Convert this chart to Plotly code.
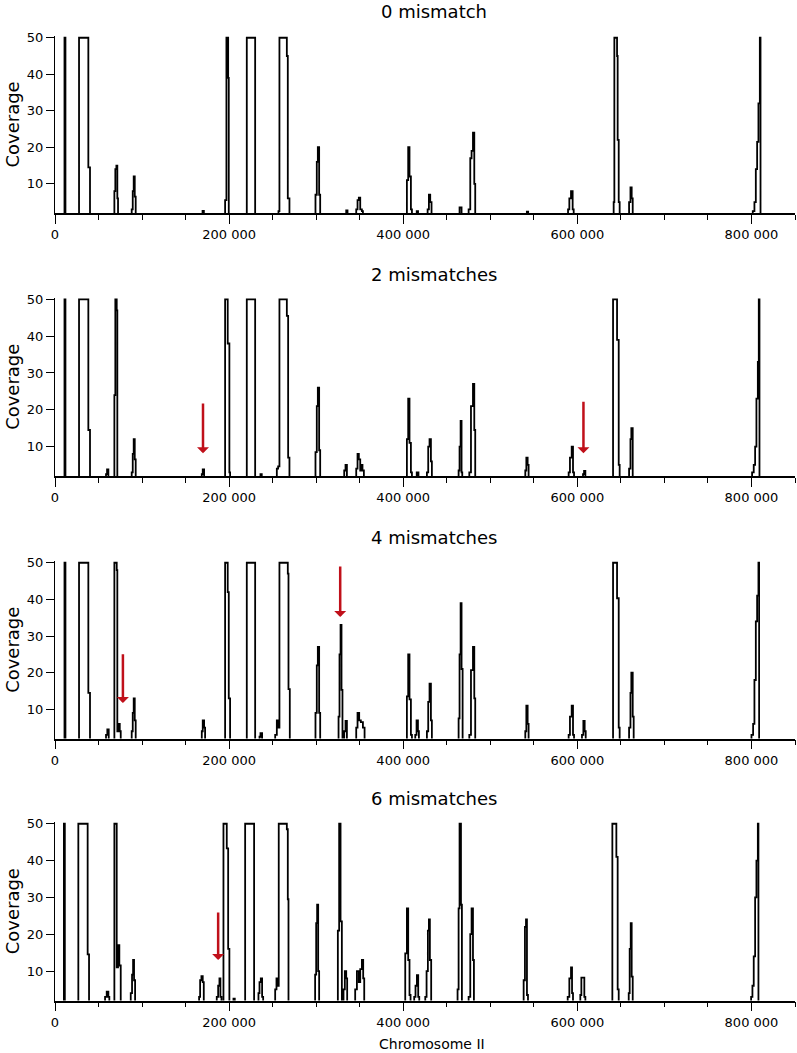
import plotly.graph_objects as go

# ---------------- data (position in bp, coverage) ----------------
panel_titles = ["0 mismatch", "2 mismatches", "4 mismatches", "6 mismatches"]

pos0 = [10900, 12000,
        27600, 38300, 40200,
        68200, 69300, 70500, 71600, 72400,
        88100, 89300, 90400, 91600, 92700,
        169500, 171000,
        195400, 196900, 198900, 199600,
        220300, 229900,
        256700, 257800, 266300, 267400, 269300,
        299200, 300700, 301900, 303400, 304600,
        334500, 336000,
        346000, 347500, 349000, 350600, 352500, 353700,
        404200, 405700, 407200, 408800, 410000,
        415500, 417000,
        428000, 429500, 431000, 432500,
        464700, 467000,
        475100, 477000, 478500, 480100, 481600, 482700,
        542000, 543500,
        589300, 590800, 592700, 594600, 595800,
        641700, 642500, 645600, 646300, 647500, 648600,
        659400, 661000, 662400, 663600,
        801500, 803400, 805000, 806500, 808000, 809600, 810400]
cov0 = [50, 0,
        50, 14.5, 0,
        8, 14, 15, 6, 0,
        3, 8, 12, 6.5, 0,
        2.6, 0,
        5.5, 50, 39, 0,
        50, 0,
        2.5, 50, 45, 6, 0,
        7, 16, 20, 7, 0,
        2.7, 0,
        3, 5.5, 6.2, 3, 2.5, 0,
        11, 20, 12, 3, 0,
        2.5, 0,
        3, 7, 5, 0,
        3.5, 0,
        3, 17, 19, 24, 10, 0,
        2.4, 0,
        3, 6, 8, 3, 0,
        5, 50, 45, 22, 5, 0,
        5, 9, 6, 0,
        2.5, 5, 14, 21.5, 32, 50, 0]

pos2 = [10900, 12000,
        27600, 38300, 40200,
        58600, 59800, 61300,
        68200, 69300, 70900, 71600,
        88100, 89300, 90400, 91600, 92700,
        168600, 169700, 171300,
        195400, 198400, 200300, 201100,
        220300, 229900,
        236000, 237500,
        254800, 256300, 257800, 266300, 267800, 269300,
        299200, 300700, 301900, 303400, 304600,
        332200, 333700, 335300,
        346000, 347500, 349000, 350600, 351700, 353200, 354800,
        404200, 405700, 407200, 408800, 410000,
        415500, 417500,
        427200, 428700, 430200, 431800, 432900,
        463600, 464700, 465900, 467000, 467800,
        475900, 477800, 480100, 481600, 482700,
        540200, 541400, 542900, 544000,
        590000, 591500, 593500, 595000, 596200,
        606500, 607700, 609200,
        641000, 645600, 647500, 648600,
        659400, 661000, 662000, 663600,
        800700, 802600, 804200, 805700, 807300, 808400, 809200]
cov2 = [50, 0,
        50, 14.5, 0,
        2.5, 3.8, 0,
        24, 50, 47, 0,
        3, 8, 12, 6.5, 0,
        2.5, 3.8, 0,
        50, 38, 3, 0,
        50, 0,
        2.5, 0,
        4, 4.6, 50, 45.5, 7, 0,
        8.5, 21, 26, 9, 0,
        3.5, 5, 0,
        4, 8, 6.5, 3.5, 5, 3.5, 0,
        12, 23, 11, 3, 0,
        3, 0,
        3, 10, 12, 6, 0,
        3.5, 10, 17, 3, 0,
        3, 21, 27, 14.5, 0,
        3.5, 7, 5, 0,
        3, 7, 10, 3, 0,
        2.5, 3.4, 0,
        50, 39, 5, 0,
        4, 12, 15, 0,
        3, 5, 10, 23, 33, 50, 0]

pos4 = [10900, 12000,
        27600, 38300, 40200,
        58600, 60100, 61700,
        68200, 70900, 71600, 73200, 74400, 75500,
        88100, 89300, 90400, 91600, 92700,
        168600, 169700, 171300, 172400,
        195400, 198400, 199600, 201100,
        220300, 229900,
        234900, 236000, 237900,
        252900, 254800, 256300, 257800, 267400, 268200, 269700,
        299200, 300700, 301900, 303400, 304600,
        325700, 326800, 328000, 329100, 330200,
        332200, 333700, 335300,
        346000, 347500, 349400, 351300, 353700, 355600,
        404200, 405700, 407200, 408800, 410000,
        413800, 415300, 416900, 418000,
        427200, 428700, 430200, 431800, 432900,
        463600, 464700, 465900, 467000, 468200,
        475900, 477800, 480100, 481600, 482700,
        540200, 541400, 542900, 544000,
        590000, 591500, 593500, 595000, 596200,
        605300, 606900, 608400, 609600,
        641000, 645600, 647500, 648600,
        659400, 661000, 662000, 663600, 664700,
        800000, 801900, 803400, 805000, 806500, 808000, 808800]
cov4 = [50, 0,
        50, 14.5, 0,
        3, 4.5, 0,
        50, 48, 4, 6, 4, 0,
        4, 9, 13, 7, 0,
        4, 7, 5, 0,
        50, 42, 13, 0,
        50, 0,
        2.5, 3.5, 0,
        3, 7, 5, 50, 47, 15.5, 0,
        9, 22, 27, 9, 0,
        8, 25, 33, 15.3, 0,
        4, 6.8, 0,
        5, 9, 7, 6.5, 5, 0,
        13.5, 25, 12.7, 3, 0,
        3, 7, 4, 0,
        4, 12, 17, 7, 0,
        7.5, 25, 39, 21, 0,
        3, 20.7, 27, 13, 0,
        4, 11, 6, 0,
        3, 8, 11, 3, 0,
        3, 6.8, 4, 0,
        50, 40.3, 5, 0,
        5, 14.5, 20, 8, 0,
        3, 6, 18, 34, 41, 50, 0]

pos6 = [10200, 11300,
        26800, 37500, 39100,
        57500, 59400, 61300, 62400,
        68200, 70900, 72400, 73900, 75500,
        87000, 88500, 89700, 90800, 92000,
        165500, 166700, 168200, 169700, 170900,
        185800, 187400, 188900, 190000, 191200,
        193500, 197300, 198900, 200300,
        205000, 206500,
        218400, 228700,
        233700, 234900, 236400, 237900, 239100,
        252900, 254400, 255900, 257000, 266300, 267400, 268200,
        298800, 300000, 301100, 302300, 303400,
        324900, 326400, 328000, 329500,
        331400, 332900, 334500, 335600,
        344800, 346800, 349000, 350600, 352500, 354000, 355200,
        402300, 404200, 405700, 407200, 408400,
        412600, 414100, 415700, 417200, 418400,
        425300, 426800, 428300, 429500, 430600, 432100,
        462400, 463600, 464700, 466300, 467400,
        475100, 477000, 478500, 480100, 481200,
        538300, 539800, 541000, 542100, 543300,
        588900, 590800, 592700, 593900, 595000,
        603400, 604600, 608000, 609200,
        640200, 644800, 646300, 647500,
        659000, 660100, 661300, 662400, 663600,
        799600, 801100, 802600, 804200, 805700, 807300, 808000]
cov6 = [50, 0,
        50, 14.5, 0,
        3, 4.4, 3, 0,
        50, 11, 17, 11.5, 0,
        4, 9, 13, 7.5, 0,
        3, 7.5, 8.6, 7, 0,
        3, 6, 8, 3, 0,
        50, 43.3, 16, 0,
        2.5, 0,
        50, 0,
        4, 7, 8, 3, 0,
        5, 8, 6, 50, 48.5, 29.5, 0,
        9, 23, 28, 10, 0,
        21, 50, 23.5, 0,
        5, 10, 8, 0,
        5, 10, 7, 10.5, 13, 8, 0,
        14.8, 27, 13, 3.5, 0,
        3, 6, 8.9, 3, 0,
        3, 10, 21, 24, 13, 0,
        5, 27, 50, 28, 0,
        3, 20, 27, 13, 0,
        7.5, 22, 24, 3.5, 0,
        3, 8, 11, 4, 0,
        3.5, 8.2, 3, 0,
        50, 41, 5, 0,
        4, 16, 23, 8.5, 0,
        3, 6, 14, 30, 40, 50, 0]

x_tick_values = [0, 200000, 400000, 600000, 800000]
x_tick_labels = ["0", "200 000", "400 000", "600 000", "800 000"]
x_minor_values = [0, 50000, 100000, 150000, 200000, 250000, 300000, 350000, 400000,
                  450000, 500000, 550000, 600000, 650000, 700000, 750000, 800000, 850000]
y_tick_values = [10, 20, 30, 40, 50]

# red arrows: panel index, position (bp), coverage at tip, coverage at tail
arrow_panel = [1, 1, 2, 2, 3]
arrow_x = [170000, 607000, 78000, 327600, 187400]
arrow_tip = [8.2, 8.2, 11.7, 35.2, 13.0]
arrow_tail = [22.1, 22.6, 25.4, 49.4, 26.3]

# ---------------- figure ----------------
W, H = 797, 1053
FONT = "DejaVu Sans"
positions = [pos0, pos2, pos4, pos6]
coverages = [cov0, cov2, cov4, cov6]
for p, c in zip(positions, coverages):
    assert len(p) == len(c), (len(p), len(c))

plot_left, plot_right = 55, 795
tops = [35.9, 297.5, 560.9, 821.9]
bottoms = [213.0, 476.0, 738.6, 1000.5]
title_y = [11, 275, 537, 798]

fig = go.Figure()
layout = dict(
    template="none",
    width=W, height=H,
    margin=dict(l=0, r=0, t=0, b=0, autoexpand=False),
    paper_bgcolor="white", plot_bgcolor="white",
    font=dict(family=FONT, color="black"),
    showlegend=False,
)
annotations = []
for i in range(4):
    xa = "x" if i == 0 else f"x{i+1}"
    ya = "y" if i == 0 else f"y{i+1}"
    xk = "xaxis" if i == 0 else f"xaxis{i+1}"
    yk = "yaxis" if i == 0 else f"yaxis{i+1}"
    xs = [0] + positions[i] + [850000]
    ys = [0] + coverages[i] + [0]
    fig.add_trace(go.Scatter(x=xs, y=ys, mode="lines",
                             line=dict(color="black", width=1.8, shape="hv"),
                             xaxis=xa, yaxis=ya, hoverinfo="skip"))
    layout[xk] = dict(
        domain=[plot_left / W, plot_right / W], anchor=ya, automargin=False,
        range=[0, 850000], showline=True, linecolor="black", linewidth=1.5,
        ticks="outside", ticklen=9, tickwidth=1, tickcolor="black",
        tickmode="array", tickvals=x_tick_values, ticktext=x_tick_labels,
        minor=dict(tickmode="array", tickvals=x_minor_values, ticks="outside",
                   ticklen=5, tickwidth=1, tickcolor="black", showgrid=False),
        showgrid=False, zeroline=False, tickfont=dict(size=13, family=FONT),
        fixedrange=True,
    )
    layout[yk] = dict(
        domain=[1 - bottoms[i] / H, 1 - tops[i] / H], anchor=xa, automargin=False,
        range=[2, 50.5], showline=True, linecolor="black", linewidth=1,
        ticks="outside", ticklen=8, tickwidth=1, tickcolor="black",
        tickmode="array", tickvals=y_tick_values,
        showgrid=False, zeroline=False, tickfont=dict(size=13, family=FONT),
        title=dict(text="Coverage", font=dict(size=18, family=FONT), standoff=2),
        fixedrange=True,
    )
    annotations.append(dict(text=panel_titles[i], x=434 / W, y=1 - title_y[i] / H,
                            xref="paper", yref="paper", xanchor="center", yanchor="middle",
                            showarrow=False, font=dict(size=18, family=FONT)))

annotations.append(dict(text="Chromosome II", x=432 / W, y=1 - 1044 / H,
                        xref="paper", yref="paper", xanchor="center", yanchor="middle",
                        showarrow=False, font=dict(size=14, family=FONT)))

for pi, axv, tip, tail in zip(arrow_panel, arrow_x, arrow_tip, arrow_tail):
    xa = "x" if pi == 0 else f"x{pi+1}"
    ya = "y" if pi == 0 else f"y{pi+1}"
    annotations.append(dict(x=axv, y=tip, xref=xa, yref=ya,
                            ax=axv, ay=tail, axref=xa, ayref=ya,
                            text="", showarrow=True, arrowhead=1, arrowsize=0.8,
                            arrowwidth=2.5, arrowcolor="#c0101a", standoff=0))

layout["annotations"] = annotations
fig.update_layout(**layout)
fig.write_html("out.html", config={"displayModeBar": False},
               post_script="document.body.style.margin='0';document.body.style.padding='0';")
